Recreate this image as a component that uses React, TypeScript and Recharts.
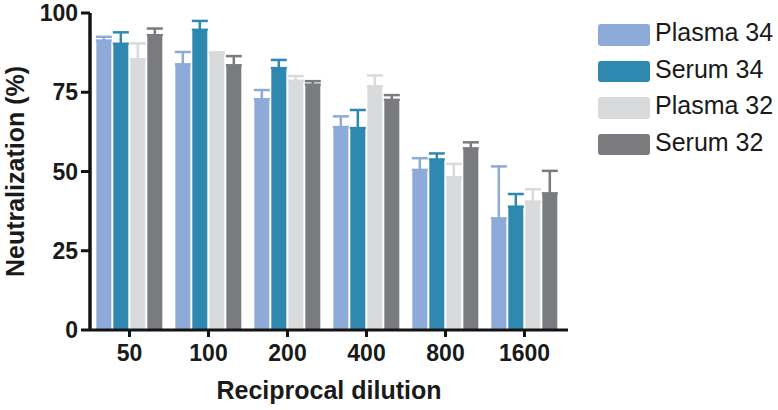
import React from "react";
import { BarChart, Bar, XAxis, YAxis, ErrorBar, Legend, Label } from "recharts";

const categories = ["50", "100", "200", "400", "800", "1600"];
const plasma34 = [91.3, 83.8, 72.8, 64.0, 50.5, 35.2];
const plasma34Err = [1.2, 3.9, 2.9, 3.4, 3.7, 16.4];
const serum34 = [90.3, 94.7, 82.6, 63.7, 53.8, 38.9];
const serum34Err = [3.6, 2.8, 2.6, 5.7, 1.9, 4.0];
const plasma32 = [85.4, 87.2, 78.6, 76.9, 48.2, 40.5];
const plasma32Err = [5.0, 0.4, 1.5, 3.4, 4.2, 3.9];
const serum32 = [93.0, 83.5, 77.4, 72.6, 57.3, 43.1];
const serum32Err = [2.1, 2.9, 1.1, 1.5, 1.9, 7.1];
const yTicks = [0, 25, 50, 75, 100];

const seriesNames = ["Plasma 34", "Serum 34", "Plasma 32", "Serum 32"];
const seriesColors = ["#8eaad8", "#2e88b0", "#d9dadc", "#7a7b7e"];
const seriesKeys = ["p34", "s34", "p32", "s32"];

const data = categories.map((c, i) => ({
  dilution: c,
  p34: plasma34[i],
  p34e: [0, plasma34Err[i]],
  s34: serum34[i],
  s34e: [0, serum34Err[i]],
  p32: plasma32[i],
  p32e: [0, plasma32Err[i]],
  s32: serum32[i],
  s32e: [0, serum32Err[i]],
}));

const FONT = "'Liberation Sans', Arial, Helvetica, sans-serif";
const AXIS = "#141414";

const LegendContent = () => (
  <div style={{ fontFamily: FONT }}>
    {seriesNames.map((n, i) => (
      <div
        key={n}
        style={{ display: "flex", alignItems: "center", height: 21.5, marginBottom: 15 }}
      >
        <div
          style={{
            width: 52,
            height: 21.5,
            background: seriesColors[i],
            borderRadius: 3,
            flex: "none",
          }}
        />
        <span
          style={{
            marginLeft: 5,
            fontSize: 25,
            lineHeight: "21.5px",
            color: "#1a1a1a",
            position: "relative",
            top: -2,
            whiteSpace: "nowrap",
          }}
        >
          {n}
        </span>
      </div>
    ))}
  </div>
);

export default function App() {
  return (
    <div style={{ position: "absolute", left: 0, top: 0, width: 778, height: 410, background: "#fff" }}>
      <BarChart
        width={778}
        height={410}
        data={data}
        margin={{ top: 13, right: 210, left: 0, bottom: 0 }}
        barCategoryGap="8%"
        barGap={2}
      >
        <XAxis
          dataKey="dilution"
          height={80}
          padding={{ left: 0, right: 4 }}
          axisLine={{ stroke: AXIS, strokeWidth: 3 }}
          tickLine={{ stroke: AXIS, strokeWidth: 3 }}
          tickSize={7}
          tickMargin={8}
          tick={{ fill: "#1a1a1a", fontSize: 23, fontWeight: "bold", fontFamily: FONT }}
          interval={0}
        >
          <Label
            content={({ viewBox }: any) => (
              <text
                x={viewBox.x + viewBox.width / 2}
                y={399}
                textAnchor="middle"
                fill="#1a1a1a"
                fontSize={25}
                fontWeight="bold"
                fontFamily={FONT}
              >
                Reciprocal dilution
              </text>
            )}
          />
        </XAxis>
        <YAxis
          width={90}
          domain={[0, 100]}
          ticks={yTicks}
          interval={0}
          axisLine={{ stroke: AXIS, strokeWidth: 3.5 }}
          tickLine={{ stroke: AXIS, strokeWidth: 3 }}
          tickSize={9}
          tickMargin={3}
          tick={{ fill: "#1a1a1a", fontSize: 23, fontWeight: "bold", fontFamily: FONT }}
        >
          <Label
            content={({ viewBox }: any) => {
              const cx = 24;
              const cy = viewBox.y + viewBox.height / 2;
              return (
                <text
                  x={cx}
                  y={cy}
                  transform={`rotate(-90, ${cx}, ${cy})`}
                  textAnchor="middle"
                  fill="#1a1a1a"
                  fontSize={25}
                  fontWeight="bold"
                  fontFamily={FONT}
                >
                  Neutralization (%)
                </text>
              );
            }}
          />
        </YAxis>
        <Legend
          layout="vertical"
          align="center"
          verticalAlign="middle"
          wrapperStyle={{ left: 598, top: 24, width: 180 }}
          content={<LegendContent />}
        />
        {seriesKeys.map((k, i) => (
          <Bar
            key={k}
            dataKey={k}
            name={seriesNames[i]}
            fill={seriesColors[i]}
            radius={[2, 2, 0, 0]}
            isAnimationActive={false}
          >
            <ErrorBar
              dataKey={k + "e"}
              direction="y"
              width={8}
              stroke={seriesColors[i]}
              strokeWidth={2.5}
              isAnimationActive={false}
            />
          </Bar>
        ))}
      </BarChart>
    </div>
  );
}
